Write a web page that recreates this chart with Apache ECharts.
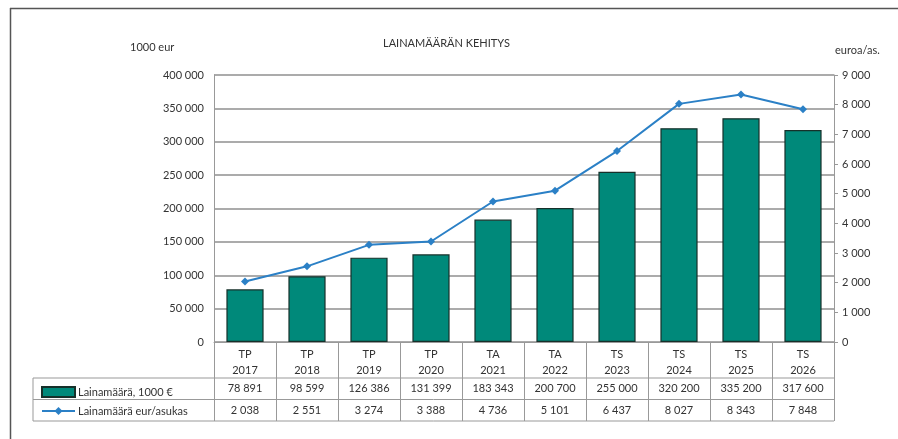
<!DOCTYPE html>
<html>
<head>
<meta charset="utf-8">
<script src="https://cdn.jsdelivr.net/npm/echarts@6/dist/echarts.min.js"></script>
<style>
  html, body { margin: 0; padding: 0; background: #fff; }
  #main { width: 898px; height: 439px; }
</style>
</head>
<body>
<div id="main"></div>
<script>
// Data
var phases = ['TP', 'TP', 'TP', 'TP', 'TA', 'TA', 'TS', 'TS', 'TS', 'TS'];
var years = ['2017', '2018', '2019', '2020', '2021', '2022', '2023', '2024', '2025', '2026'];
var loanTotal = [78891, 98599, 126386, 131399, 183343, 200700, 255000, 320200, 335200, 317600];
var loanPerCapita = [2038, 2551, 3274, 3388, 4736, 5101, 6437, 8027, 8343, 7848];
var seriesNames = ['Lainamäärä, 1000 €', 'Lainamäärä eur/asukas'];

var FONT = 'Lato';
var gridLeft = 214, gridRight = 834, gridTop = 75, gridBottom = 342;
var rowY = [378, 399.5, 421];
var tableLeft = 33;

function fmt(v) {
    return String(v).replace(/\B(?=(\d{3})+(?!\d))/g, ' ');
}

var chart = echarts.init(document.getElementById('main'));

var categories = years.map(function (y, i) { return phases[i] + '\n' + y; });

// table cells (values) - placed per column
var colW = (gridRight - gridLeft) / years.length;
var tableGraphics = [];
[loanTotal, loanPerCapita].forEach(function (arr, r) {
    arr.forEach(function (v, i) {
        tableGraphics.push({
            type: 'text',
            x: gridLeft + colW * (i + 0.5),
            y: (rowY[r] + rowY[r + 1]) / 2,
            style: {
                text: fmt(v), fill: '#333', font: '11px ' + FONT,
                textAlign: 'center', textVerticalAlign: 'middle'
            }
        });
    });
});
// horizontal table lines
rowY.forEach(function (y) {
    tableGraphics.push({
        type: 'line',
        shape: { x1: tableLeft, y1: y, x2: gridRight, y2: y },
        style: { stroke: '#999', lineWidth: 1 }
    });
});
// vertical table lines (column borders under the axis)
for (var c = 0; c <= years.length; c++) {
    var cx = Math.round(gridLeft + colW * c) + 0.5;
    tableGraphics.push({
        type: 'line',
        shape: { x1: cx, y1: gridBottom, x2: cx, y2: rowY[2] },
        style: { stroke: '#999', lineWidth: 1 }
    });
}
tableGraphics.push({
    type: 'line',
    shape: { x1: tableLeft, y1: rowY[0], x2: tableLeft, y2: rowY[2] },
    style: { stroke: '#999', lineWidth: 1 }
});
// outer frame (top + left)
tableGraphics.push({
    type: 'line',
    shape: { x1: 10, y1: 8.5, x2: 898, y2: 8.5 },
    style: { stroke: '#555', lineWidth: 1.5 }
});
tableGraphics.push({
    type: 'line',
    shape: { x1: 10.5, y1: 8, x2: 10.5, y2: 439 },
    style: { stroke: '#555', lineWidth: 1.5 }
});
// axis unit labels
tableGraphics.push({
    type: 'text', x: 130, y: 47,
    style: { text: '1000 eur', fill: '#333', font: '11px ' + FONT, textVerticalAlign: 'middle' }
});
tableGraphics.push({
    type: 'text', x: 835, y: 50,
    style: { text: 'euroa/as.', fill: '#333', font: '11px ' + FONT, textVerticalAlign: 'middle' }
});

var option = {
    animation: false,
    title: {
        text: 'LAINAMÄÄRÄN KEHITYS',
        left: 378,
        top: 33,
        textStyle: { fontFamily: FONT, fontSize: 11, fontWeight: 'normal', color: '#333' }
    },
    legend: {
        orient: 'vertical',
        left: 36,
        top: 381,
        itemWidth: 33,
        itemHeight: 10,
        itemGap: 7.5,
        data: [{ name: seriesNames[0], icon: 'rect' }, { name: seriesNames[1] }],
        textStyle: { fontFamily: FONT, fontSize: 11, color: '#333', padding: [0, 0, 0, -2] }
    },
    grid: {
        left: gridLeft,
        right: 898 - gridRight,
        top: gridTop,
        bottom: 439 - gridBottom
    },
    xAxis: {
        type: 'category',
        data: categories,
        axisLine: { lineStyle: { color: '#999' } },
        axisTick: { show: false },
        axisLabel: {
            interval: 0, margin: 4, lineHeight: 16,
            fontFamily: FONT, fontSize: 11, color: '#333'
        }
    },
    yAxis: [
        {
            type: 'value',
            min: 0, max: 400000, interval: 50000,
            axisLine: { show: true, lineStyle: { color: '#999' } },
            axisTick: { show: false },
            axisLabel: {
                margin: 10, fontFamily: FONT, fontSize: 11, color: '#333',
                formatter: function (v) { return fmt(v); }
            },
            splitLine: { lineStyle: { color: '#8f8f8f', width: 1.5 } }
        },
        {
            type: 'value',
            min: 0, max: 9000, interval: 1000,
            position: 'right',
            axisLine: { show: true, lineStyle: { color: '#999' } },
            axisTick: { show: true, length: 4, lineStyle: { color: '#999' } },
            axisLabel: {
                margin: 8, fontFamily: FONT, fontSize: 11, color: '#333',
                formatter: function (v) { return fmt(v); }
            },
            splitLine: { show: false }
        }
    ],
    series: [
        {
            name: seriesNames[0],
            type: 'bar',
            data: loanTotal,
            barWidth: '60%',
            itemStyle: { color: '#00897a', borderColor: '#16302a', borderWidth: 1.2 }
        },
        {
            name: seriesNames[1],
            type: 'line',
            yAxisIndex: 1,
            data: loanPerCapita,
            symbol: 'diamond',
            symbolSize: 8,
            lineStyle: { color: '#2b80c6', width: 2 },
            itemStyle: { color: '#2b80c6' }
        }
    ],
    graphic: tableGraphics
};

chart.setOption(option);
</script>
</body>
</html>
